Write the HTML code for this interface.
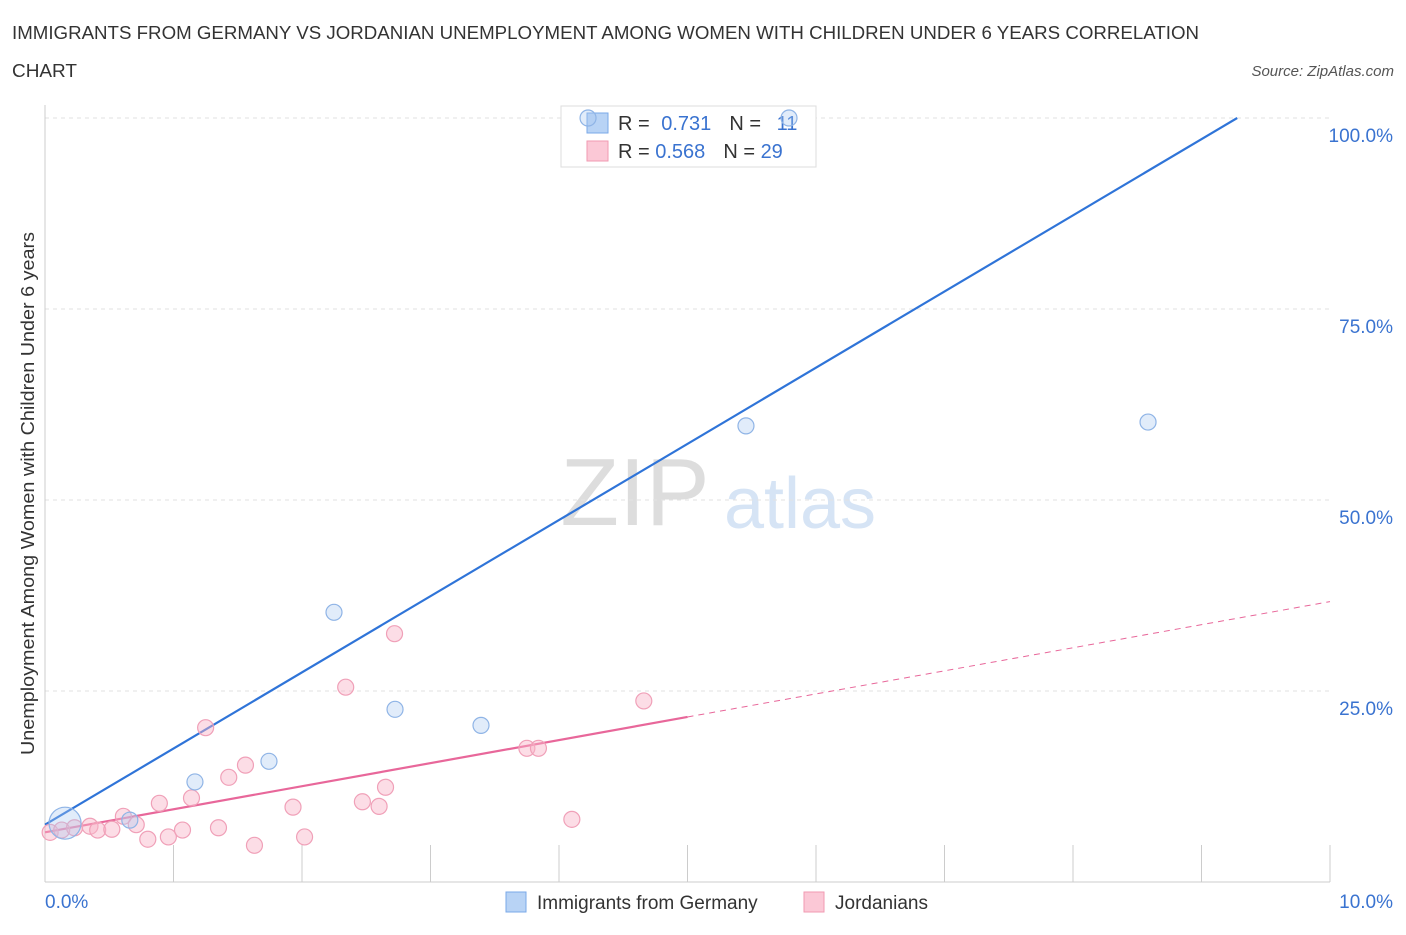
<!DOCTYPE html>
<html><head><meta charset="utf-8"><style>
body{margin:0;background:#fff;font-family:"Liberation Sans",sans-serif;}
svg text{font-family:"Liberation Sans",sans-serif;}
</style></head><body>
<svg id="chart" width="1406" height="930" xmlns="http://www.w3.org/2000/svg">
<text x="12" y="39" font-size="18" fill="#333" textLength="1187" lengthAdjust="spacingAndGlyphs">IMMIGRANTS FROM GERMANY VS JORDANIAN UNEMPLOYMENT AMONG WOMEN WITH CHILDREN UNDER 6 YEARS CORRELATION</text>
<text x="12" y="77" font-size="18" fill="#333" textLength="65" lengthAdjust="spacingAndGlyphs">CHART</text>
<text x="1394" y="76" font-size="15" fill="#555" font-style="italic" text-anchor="end">Source: ZipAtlas.com</text>
<text x="34" y="755" font-size="18" fill="#333" textLength="523" lengthAdjust="spacingAndGlyphs" transform="rotate(-90 34 755)">Unemployment Among Women with Children Under 6 years</text>
<text x="635" y="525" font-size="96" fill="#ddd" font-family="Liberation Serif" text-anchor="middle">ZIP</text>
<text x="800" y="528" font-size="72" fill="#d6e4f5" text-anchor="middle">atlas</text>
<g id="grid"></g><g id="axes"></g><g id="lines"></g>
<g>
<rect x="561" y="106" width="255" height="61" fill="#fff" stroke="#ddd"/>
<rect x="587" y="113" width="21" height="20" fill="#b8d3f5" stroke="#7aa8e8"/>
<rect x="587" y="141" width="21" height="20" fill="#fbc8d6" stroke="#f09ab2"/>
<text x="618" y="130" font-size="20" fill="#333">R = <tspan fill="#3a73d0" dx="6">0.731</tspan><tspan fill="#333" dx="18">N = </tspan><tspan fill="#3a73d0" dx="10">11</tspan></text>
<text x="618" y="158" font-size="20" fill="#333">R = <tspan fill="#3a73d0">0.568</tspan><tspan fill="#333" dx="18">N = </tspan><tspan fill="#3a73d0">29</tspan></text>
</g>
<g id="points"></g>
<g>
<rect x="506" y="892" width="20" height="20" fill="#b8d3f5" stroke="#7aa8e8"/>
<text x="537" y="909" font-size="19" fill="#333">Immigrants from Germany</text>
<rect x="804" y="892" width="20" height="20" fill="#fbc8d6" stroke="#f09ab2"/>
<text x="835" y="909" font-size="19" fill="#333">Jordanians</text>
</g>
</svg>
<script>
const xTicks=[0,10];
const yTicks=[25,50,75,100];
const blueX=[0.156,0.66,1.167,1.743,2.249,2.724,3.393,5.455,8.584,4.226,5.79];
const blueY=[7.7,8.1,13.1,15.8,35.3,22.6,20.5,59.7,60.2,100,100];
const blueR=[16,8,8,8,8,8,8,8,8,8,8];
const pinkX=[0.04,0.13,0.23,0.35,0.41,0.52,0.61,0.71,0.80,0.89,0.96,1.07,1.14,1.25,1.35,1.43,1.56,1.63,1.93,2.02,2.34,2.47,2.6,2.65,2.72,3.75,3.84,4.1,4.66];
const pinkY=[6.5,6.8,7.1,7.3,6.8,6.9,8.6,7.5,5.6,10.3,5.9,6.8,11,20.2,7.1,13.7,15.3,4.8,9.8,5.9,25.5,10.5,9.9,12.4,32.5,17.5,17.5,8.2,23.7];
const blueTrend=[7.5,9.97];
const pinkTrend=[6.5,3.02];
const NS='http://www.w3.org/2000/svg';
const sx=v=>45+v*128.5, sy=v=>882-v*7.64;
function mk(tag,attrs,parent){const e=document.createElementNS(NS,tag);for(const k in attrs)e.setAttribute(k,attrs[k]);document.getElementById(parent).appendChild(e);return e;}
yTicks.forEach(t=>{
 const l=mk('line',{x1:45,x2:1330,y1:sy(t),y2:sy(t),stroke:'#e2e2e2','stroke-dasharray':'4,4'},'grid');
 
 
 const tx=mk('text',{x:1393,y:sy(t)+24,'font-size':19,fill:'#3a73d0','text-anchor':'end'},'grid');
 tx.textContent=t.toFixed(1)+'%';
 
 
});
mk('line',{x1:45,x2:1330,y1:882,y2:882,stroke:'#ccc'},'axes');
mk('line',{x1:45,x2:45,y1:105,y2:882,stroke:'#ccc'},'axes');
for(let i=0;i<=10;i++){const t=mk('line',{x1:sx(i),x2:sx(i),y1:845,y2:882,stroke:'#ccc'},'axes');
 
 }
xTicks.forEach((t,i)=>{const tx=mk('text',{x:i?1393:45,y:908,'font-size':19,fill:'#3a73d0','text-anchor':i?'end':'start'},'axes');
 tx.textContent=t.toFixed(1)+'%';
 
 });
const xEndB=(100-blueTrend[0])/blueTrend[1];
const bl=mk('line',{x1:sx(0),y1:sy(blueTrend[0]),x2:sx(xEndB),y2:sy(100),stroke:'#2f74d8','stroke-width':2.2},'lines');


const pl=mk('line',{x1:sx(0),y1:sy(pinkTrend[0]),x2:sx(5),y2:sy(pinkTrend[0]+5*pinkTrend[1]),stroke:'#e8679a','stroke-width':2.2},'lines');


const pd=mk('line',{x1:sx(5),y1:sy(pinkTrend[0]+5*pinkTrend[1]),x2:sx(10),y2:sy(pinkTrend[0]+10*pinkTrend[1]),stroke:'#e8679a','stroke-width':1,'stroke-dasharray':'6,5'},'lines');


pinkX.forEach((x,i)=>{const c=mk('circle',{cx:sx(x),cy:sy(pinkY[i]),r:8,fill:'rgba(248,180,200,0.45)',stroke:'#f0a0b8','stroke-width':1.2},'points');
 
 });
blueX.forEach((x,i)=>{const c=mk('circle',{cx:sx(x),cy:sy(blueY[i]),r:blueR[i],fill:'rgba(170,200,240,0.35)',stroke:'#8fb4e6','stroke-width':1.2},'points');
 
 });
</script>
</body></html>
